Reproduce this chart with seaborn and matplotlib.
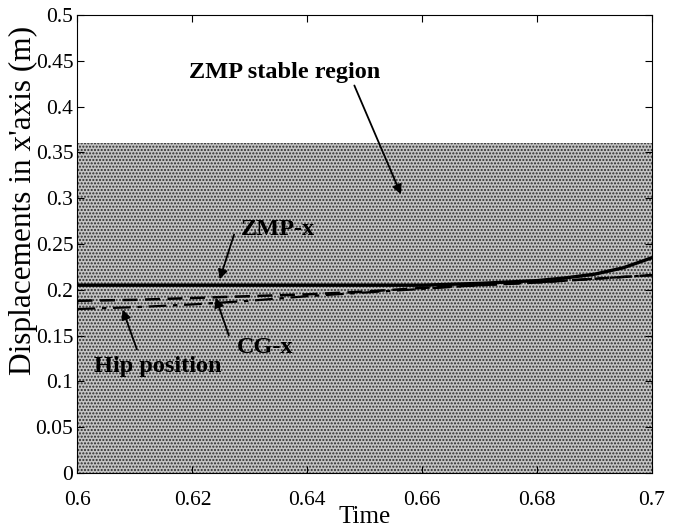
import matplotlib
matplotlib.use("Agg")
import matplotlib.pyplot as plt
import seaborn as sns
import pandas as pd

time = [0.600, 0.610, 0.620, 0.630, 0.640, 0.650, 0.660, 0.670, 0.680, 0.685, 0.690, 0.695, 0.700]
zmp_x = [0.205, 0.205, 0.205, 0.205, 0.205, 0.205, 0.205, 0.207, 0.210, 0.213, 0.217, 0.224, 0.235]
cg_x = [0.188, 0.189, 0.191, 0.193, 0.195, 0.198, 0.202, 0.205, 0.208, 0.210, 0.212, 0.214, 0.216]
hip_x = [0.179, 0.181, 0.184, 0.188, 0.193, 0.197, 0.201, 0.205, 0.208, 0.210, 0.212, 0.214, 0.216]
stable_top = 0.36

sns.set_style("ticks")
plt.rcParams['font.family'] = ['Liberation Serif', 'DejaVu Serif']
plt.rcParams['hatch.color'] = '#2a2a2a'
plt.rcParams['text.color'] = 'black'
plt.rcParams['axes.labelcolor'] = 'black'
plt.rcParams['xtick.color'] = 'black'
plt.rcParams['ytick.color'] = 'black'
plt.rcParams['axes.edgecolor'] = 'black'

fig = plt.figure(figsize=(6.81, 5.29), dpi=100)
ax = fig.add_axes([0.1138, 0.1059, 0.8436, 0.8658])

ax.fill_between([0.6, 0.7], 0, stable_top, facecolor="#c4c4c4", edgecolor="#2a2a2a",
                hatch=".....", linewidth=0, zorder=0)

df = pd.DataFrame({
    "Time": time * 3,
    "val": zmp_x + cg_x + hip_x,
    "series": ["ZMP-x"] * len(time) + ["CG-x"] * len(time) + ["Hip"] * len(time),
})
sns.lineplot(data=df, x="Time", y="val", hue="series", style="series",
             palette={"ZMP-x": "black", "CG-x": "black", "Hip": "black"},
             dashes={"ZMP-x": "", "CG-x": (6, 3), "Hip": (8, 3, 2, 3)},
             size="series", sizes={"ZMP-x": 2.4, "CG-x": 1.8, "Hip": 1.6},
             legend=False, ax=ax, zorder=3)

ax.set_xlim(0.6, 0.7)
ax.set_ylim(0, 0.5)
ax.set_xticks([0.6, 0.62, 0.64, 0.66, 0.68, 0.7])
ax.set_xticklabels(["0.6", "0.62", "0.64", "0.66", "0.68", "0.7"])
ax.set_yticks([0, 0.05, 0.1, 0.15, 0.2, 0.25, 0.3, 0.35, 0.4, 0.45, 0.5])
ax.set_yticklabels(["0", "0.05", "0.1", "0.15", "0.2", "0.25", "0.3", "0.35", "0.4", "0.45", "0.5"])
ax.tick_params(direction="in", labelsize=15.5, length=5, top=True, right=True)
ax.tick_params(axis="x", pad=13)
ax.tick_params(axis="y", pad=3)
ax.set_xlabel("Time", fontsize=18, labelpad=-3)
ax.set_ylabel("Displacements in x'axis (m)", fontsize=22.5)
ax.yaxis.set_label_coords(-0.068, 0.594)
for s in ax.spines.values():
    s.set_linewidth(0.8)

arrow = dict(arrowstyle="-|>", color="black", lw=1.3, mutation_scale=14)
fs = 17.5
ax.text(0.6361, 0.4367, "ZMP stable region", fontsize=fs, fontweight="bold",
        ha="center", va="center")
ax.annotate("", xy=(0.6565, 0.3013), xytext=(0.6480, 0.4258), arrowprops=arrow)
ax.text(0.6349, 0.2653, "ZMP-x", fontsize=fs, fontweight="bold", ha="center", va="center")
ax.annotate("", xy=(0.6246, 0.2085), xytext=(0.6274, 0.2631), arrowprops=arrow)
ax.text(0.6326, 0.1365, "CG-x", fontsize=fs, fontweight="bold", ha="center", va="center")
ax.annotate("", xy=(0.6239, 0.1943), xytext=(0.6265, 0.1474), arrowprops=arrow)
ax.text(0.6140, 0.1157, "Hip position", fontsize=fs, fontweight="bold", ha="center", va="center")
ax.annotate("", xy=(0.6077, 0.1812), xytext=(0.6105, 0.1321), arrowprops=arrow)

fig.savefig("out.png", dpi=100)
